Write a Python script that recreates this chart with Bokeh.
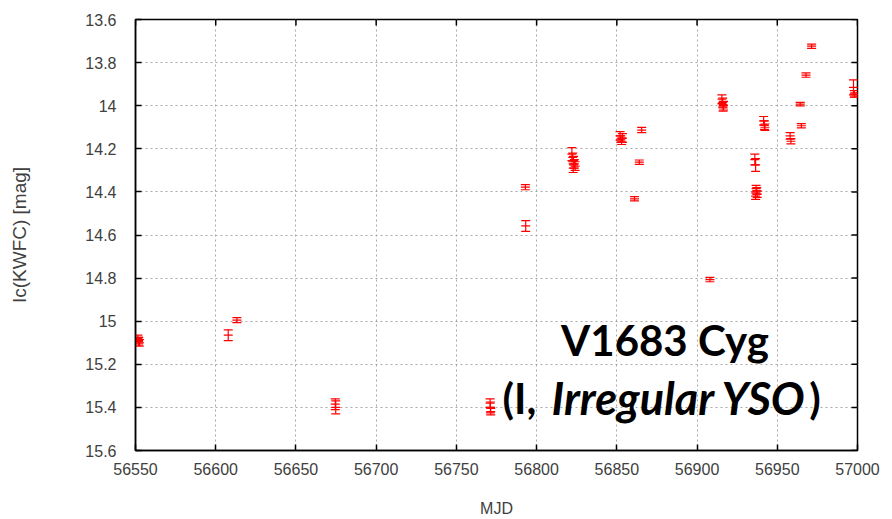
import math
from bokeh.plotting import figure
from bokeh.models import (ColumnDataSource, Range1d, FixedTicker,
                          CustomJSTickFormatter, Label)
from bokeh.embed import file_html
from bokeh.resources import INLINE

# ---- data ----
mjd = [56551.5, 56552.0, 56552.5, 56551.8, 56607.8, 56613.2, 56674.5, 56674.8,
       56771.0, 56771.2, 56771.4, 56793.0, 56793.2,
       56822.0, 56822.5, 56823.0, 56823.5, 56824.0, 56822.8,
       56852.0, 56852.5, 56853.0, 56853.5, 56861.0, 56864.0, 56865.5, 56908.0,
       56915.5, 56916.0, 56916.5, 56916.2,
       56936.0, 56936.5, 56936.8, 56937.2, 56937.5, 56936.5,
       56941.5, 56942.0, 56942.3, 56958.0, 56958.5,
       56964.3, 56965.0, 56967.9, 56971.4, 56997.5, 56998.0, 56998.3]
mag = [15.08, 15.09, 15.10, 15.095, 15.065, 14.995, 15.385, 15.40,
       15.38, 15.40, 15.42, 14.378, 14.558,
       14.225, 14.24, 14.255, 14.27, 14.28, 14.29,
       14.14, 14.155, 14.165, 14.15, 14.432, 14.262, 14.113, 14.807,
       13.97, 13.985, 14.00, 14.01,
       14.25, 14.275, 14.385, 14.395, 14.41, 14.42,
       14.07, 14.09, 14.10, 14.14, 14.165,
       13.993, 14.093, 13.858, 13.724, 13.915, 13.945, 13.95]
err = [0.015, 0.015, 0.015, 0.02, 0.025, 0.012, 0.025, 0.03,
       0.02, 0.025, 0.015, 0.012, 0.025,
       0.03, 0.02, 0.02, 0.02, 0.02, 0.02,
       0.02, 0.015, 0.015, 0.02, 0.01, 0.01, 0.012, 0.01,
       0.02, 0.02, 0.02, 0.015,
       0.025, 0.03, 0.015, 0.015, 0.015, 0.015,
       0.02, 0.02, 0.015, 0.015, 0.012,
       0.008, 0.01, 0.01, 0.01, 0.035, 0.015, 0.01]
x_ticks = [56550, 56600, 56650, 56700, 56750, 56800, 56850, 56900, 56950, 57000]
y_ticks = [13.6, 13.8, 14.0, 14.2, 14.4, 14.6, 14.8, 15.0, 15.2, 15.4, 15.6]

X0, X1 = 56550, 57000
Y_TOP, Y_BOT = 13.6, 15.6

lo = [m - e for m, e in zip(mag, err)]
hi = [m + e for m, e in zip(mag, err)]
src = ColumnDataSource(dict(x=mjd, y=mag, lo=lo, hi=hi))

TICK_FONT = "Liberation Sans"
GRAY = "#404040"

p = figure(width=892, height=519, output_backend="svg", toolbar_location=None,
           x_range=Range1d(X0, X1), y_range=Range1d(Y_BOT, Y_TOP),
           min_border_left=135, min_border_right=35, min_border_top=19,
           min_border_bottom=66)
p.background_fill_color = "white"
p.border_fill_color = "white"
p.outline_line_color = "black"
p.outline_line_width = 1.5

fmt = CustomJSTickFormatter(code="return String(Number(tick.toFixed(1)));")

for ax in (p.xaxis[0], p.yaxis[0]):
    ax.major_label_text_font = TICK_FONT
    ax.major_label_text_font_size = "16px"
    ax.major_label_text_color = GRAY
    ax.axis_label_text_font = TICK_FONT
    ax.axis_label_text_font_style = "normal"
    ax.axis_label_text_color = GRAY
    ax.axis_line_color = "black"
    ax.axis_line_width = 1.5
    ax.major_tick_in = 6
    ax.major_tick_out = 0
    ax.major_tick_line_color = "black"
    ax.major_tick_line_width = 1.5
    ax.minor_tick_line_color = None

p.xaxis[0].ticker = FixedTicker(ticks=x_ticks)
p.yaxis[0].ticker = FixedTicker(ticks=y_ticks)
p.yaxis[0].formatter = fmt
p.xaxis[0].axis_label = "MJD"
p.yaxis[0].axis_label = "Ic(KWFC) [mag]"
p.xaxis[0].axis_label_text_font_size = "16px"
p.yaxis[0].axis_label_text_font_size = "19px"
p.xaxis[0].major_label_standoff = 12
p.xaxis[0].axis_label_standoff = 22
p.yaxis[0].major_label_standoff = 19
p.yaxis[0].axis_label_standoff = 52

# mirrored inward ticks on the top and right frame edges
p.ray(x=x_ticks, y=[Y_TOP] * len(x_ticks), length=6, length_units="screen",
      angle=-math.pi / 2, line_color="black", line_width=1.5)
p.ray(x=[X1] * len(y_ticks), y=y_ticks, length=6, length_units="screen",
      angle=math.pi, line_color="black", line_width=1.5)

for g in (p.xgrid[0], p.ygrid[0]):
    g.grid_line_color = "#a8a8a8"
    g.grid_line_dash = "2 3"
    g.grid_line_width = 1
p.xgrid[0].ticker = FixedTicker(ticks=x_ticks)
p.ygrid[0].ticker = FixedTicker(ticks=y_ticks)

RED = "#ff0000"
p.segment(x0="x", y0="lo", x1="x", y1="hi", source=src, line_color=RED, line_width=1.2)
p.dash(x="x", y="lo", source=src, size=9, line_color=RED, line_width=1.2)
p.dash(x="x", y="hi", source=src, size=9, line_color=RED, line_width=1.2)
p.dash(x="x", y="y", source=src, size=9, line_color=RED, line_width=1.2)

BIG = "Lato"
common = dict(text_font=BIG, text_baseline="alphabetic", text_color="black")
p.add_layout(Label(x=56880, y=15.087, text="V1683 Cyg", text_font_size="42px",
                   text_font_style="bold", text_align="center", **common))
p.add_layout(Label(x=56778.7, y=15.355, text="(I,", text_font_size="42px",
                   text_font_style="bold", text_align="left", **common))
p.add_layout(Label(x=56809.3, y=15.355, text="Irregular YSO", text_font_size="45px",
                   text_font_style="bold italic", text_align="left", **common))
p.add_layout(Label(x=56970.0, y=15.355, text=")", text_font_size="42px",
                   text_font_style="bold", text_align="left", **common))

open("out.html", "w").write(file_html(p, INLINE))
